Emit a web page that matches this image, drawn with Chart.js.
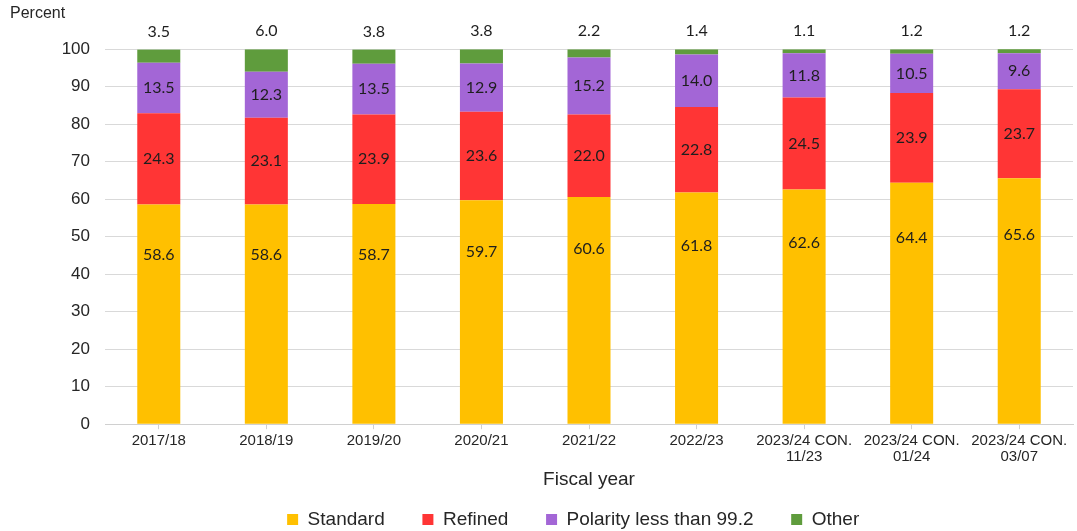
<!DOCTYPE html>
<html lang="en">
<head>
    <meta charset="UTF-8">
    <title>Fiscal year shares</title>
    <style>
        html, body {
            margin: 0;
            padding: 0;
            background: #fff;
        }
        .chart-container {
            width: 1077px;
            height: 531px;
        }
    </style>
    <script src="https://cdn.jsdelivr.net/npm/chart.js"></script>
</head>
<body>
    <div class="chart-container">
        <canvas id="shareChart" width="1077" height="531"></canvas>
    </div>

    <script>
        const categories = [
            '2017/18', '2018/19', '2019/20', '2020/21', '2021/22', '2022/23',
            ['2023/24 CON.', '11/23'], ['2023/24 CON.', '01/24'], ['2023/24 CON.', '03/07']
        ];
        const standard = [58.6, 58.6, 58.7, 59.7, 60.6, 61.8, 62.6, 64.4, 65.6];
        const refined  = [24.3, 23.1, 23.9, 23.6, 22.0, 22.8, 24.5, 23.9, 23.7];
        const polarity = [13.5, 12.3, 13.5, 12.9, 15.2, 14.0, 11.8, 10.5, 9.6];
        const other    = [3.5, 6.0, 3.8, 3.8, 2.2, 1.4, 1.1, 1.2, 1.2];
        const yTicks   = [0, 10, 20, 30, 40, 50, 60, 70, 80, 90, 100];

        const axisFont = "'Liberation Sans', Arial, sans-serif";
        const labelFont = "Lato, 'Open Sans', sans-serif";

        // value labels: the bottom series sits high in its segment, middle ones centred,
        // the last series goes on top of the stack
        const valueLabels = {
            id: 'valueLabels',
            afterDatasetsDraw(chart) {
                const ctx = chart.ctx;
                const last = chart.data.datasets.length - 1;
                ctx.save();
                ctx.font = '16px ' + labelFont;
                ctx.fillStyle = '#1e1e1e';
                ctx.textAlign = 'center';
                ctx.textBaseline = 'middle';
                chart.data.datasets.forEach((ds, i) => {
                    const meta = chart.getDatasetMeta(i);
                    meta.data.forEach((bar, j) => {
                        const text = ds.data[j].toFixed(1);
                        let y;
                        if (i === last) {
                            y = bar.y - 18;
                        } else if (i === 0) {
                            y = bar.y + (bar.base - bar.y) * 0.23;
                        } else {
                            y = (bar.y + bar.base) / 2;
                        }
                        ctx.fillText(text, bar.x, y);
                    });
                });
                ctx.restore();
            }
        };

        const series = [
            { label: 'Standard', data: standard, color: '#ffc000' },
            { label: 'Refined', data: refined, color: '#ff3535' },
            { label: 'Polarity less than 99.2', data: polarity, color: '#a366d6' },
            { label: 'Other', data: other, color: '#5f9c3d' }
        ];

        new Chart(document.getElementById('shareChart'), {
            type: 'bar',
            data: {
                labels: categories,
                datasets: series.map(s => ({
                    label: s.label,
                    data: s.data,
                    backgroundColor: s.color,
                    borderWidth: 0,
                    barPercentage: 0.8,
                    categoryPercentage: 0.5
                }))
            },
            options: {
                responsive: false,
                animation: false,
                layout: {
                    padding: { top: 0, right: 4, left: 10, bottom: -8 }
                },
                plugins: {
                    title: {
                        display: true,
                        text: 'Percent',
                        align: 'start',
                        color: '#262626',
                        font: { family: axisFont, size: 16, weight: 'normal' },
                        padding: { top: 4, bottom: 26 }
                    },
                    legend: {
                        position: 'bottom',
                        fullSize: false,
                        labels: {
                            color: '#262626',
                            font: { family: axisFont, size: 19 },
                            usePointStyle: true,
                            pointStyle: 'rect',
                            boxWidth: 11,
                            boxHeight: 11,
                            padding: 6,
                            // wider gaps between items without a taller legend box
                            generateLabels(chart) {
                                const items = Chart.defaults.plugins.legend.labels.generateLabels(chart);
                                items.forEach(item => { item.text += '      '; });
                                return items;
                            }
                        }
                    },
                    tooltip: { enabled: false }
                },
                scales: {
                    x: {
                        stacked: true,
                        grid: {
                            offset: false,
                            drawOnChartArea: false,
                            drawTicks: true,
                            tickLength: 5,
                            color: '#d0d0d0'
                        },
                        border: { color: '#d0d0d0' },
                        ticks: {
                            color: '#262626',
                            font: { family: axisFont, size: 15, lineHeight: 1.1 },
                            maxRotation: 0,
                            autoSkip: false,
                            padding: 3
                        },
                        title: {
                            display: true,
                            text: 'Fiscal year',
                            color: '#262626',
                            font: { family: axisFont, size: 19 },
                            padding: { top: 0, bottom: 13 }
                        }
                    },
                    y: {
                        stacked: true,
                        min: 0,
                        max: 100,
                        afterBuildTicks(scale) {
                            scale.ticks = yTicks.map(v => ({ value: v }));
                        },
                        afterFit(scale) {
                            scale.width = 95;
                        },
                        grid: {
                            color: '#d9d9d9',
                            drawTicks: false
                        },
                        border: { display: false },
                        ticks: {
                            color: '#262626',
                            font: { family: axisFont, size: 17 },
                            padding: 15
                        }
                    }
                }
            },
            plugins: [valueLabels]
        });
    </script>
</body>
</html>
